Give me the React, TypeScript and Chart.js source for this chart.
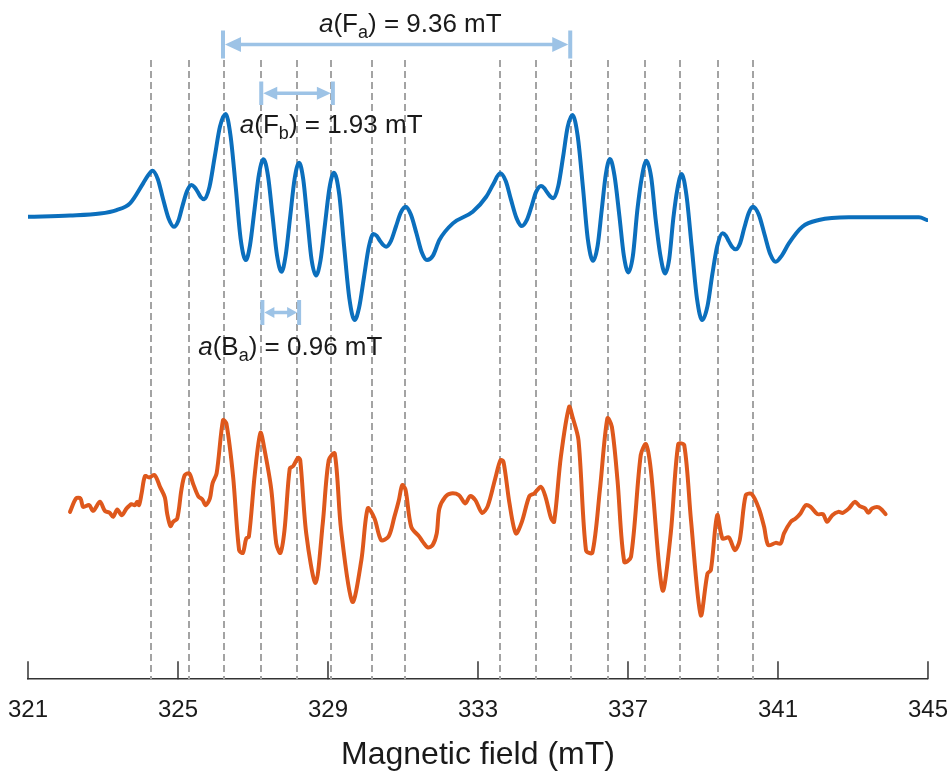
import React, { useEffect, useRef } from 'react';
import { Chart, registerables } from 'chart.js';

Chart.register(...registerables);

// ---------- data ----------
const FIELD_MIN = 321;
const FIELD_MAX = 345;
const FIELD_STEP = 4;
const AXIS_TITLE = 'Magnetic field (mT)';

// hyperfine line positions (mT)
const LINE_POSITIONS = [
  324.29, 325.3, 326.23, 327.22, 328.18, 329.07, 330.17, 331.06,
  333.59, 334.56, 335.49, 336.48, 337.46, 338.39, 339.41, 340.33,
];

// simulated spectrum (blue)
const SIM_FIELD = [
  321.01, 322.12, 322.92, 323.36, 323.72, 324.07, 324.2, 324.32, 324.46, 324.6,
  324.75, 324.89, 325.01, 325.12, 325.24, 325.36, 325.44, 325.53, 325.61, 325.7,
  325.84, 325.98, 326.12, 326.27, 326.4, 326.54, 326.67, 326.81, 326.92, 327.04,
  327.16, 327.28, 327.4, 327.52, 327.64, 327.76, 327.87, 327.99, 328.11, 328.23,
  328.34, 328.45, 328.56, 328.68, 328.8, 328.92, 329.04, 329.16, 329.3, 329.43,
  329.57, 329.71, 329.83, 329.96, 330.09, 330.21, 330.3, 330.38, 330.47, 330.55,
  330.68, 330.81, 330.94, 331.07, 331.21, 331.36, 331.5, 331.64, 331.8, 331.97,
  332.33, 332.86, 333.22, 333.41, 333.59, 333.74, 333.88, 334.03, 334.17, 334.3,
  334.43, 334.55, 334.68, 334.76, 334.84, 334.93, 335.01, 335.14, 335.27, 335.39,
  335.52, 335.66, 335.8, 335.93, 336.07, 336.19, 336.3, 336.41, 336.52, 336.64,
  336.77, 336.89, 337.01, 337.13, 337.25, 337.37, 337.49, 337.62, 337.74, 337.87,
  337.99, 338.1, 338.21, 338.32, 338.43, 338.56, 338.7, 338.84, 338.98, 339.12,
  339.25, 339.38, 339.52, 339.61, 339.69, 339.78, 339.87, 339.99, 340.1, 340.22,
  340.33, 340.49, 340.64, 340.79, 340.94, 341.11, 341.29, 341.65, 342.09, 342.89,
  344.76, 344.98,
];
const SIM_SIGNAL = [
  0.3, 1.5, 3.5, 7, 13.7, 33.7, 41.5, 46.3, 38.1, 18.3,
  -1.5, -9.7, -3.6, 11.2, 25.9, 32, 29.9, 24.9, 19.8, 17.7,
  30.2, 60.4, 90.5, 103, 81.6, 30, -21.6, -43, -28.3, 7.4,
  43, 57.7, 41.2, 1.5, -38.2, -54.7, -38.7, -0.2, 38.3, 54.3,
  37.8, -2.1, -42, -58.5, -43.4, -7.1, 29.2, 44.3, 22.6, -29.4,
  -81.4, -103, -90.4, -60, -29.6, -17, -18.9, -23.4, -27.8, -29.7,
  -23.8, -9.7, 4.4, 10.3, 2.5, -16.4, -35.2, -43, -38.5, -23,
  -6.3, 5.3, 20.3, 33, 43.7, 36, 17.4, -1.3, -9, -3.1,
  11, 25.1, 31, 29.2, 24.9, 20.5, 18.7, 30.9, 60.4, 89.8,
  102, 80.7, 29.2, -22.4, -43.7, -28.8, 7.2, 43.1, 58, 41.4,
  1.4, -38.7, -55.3, -39, 7, 40, 56.3, 39.5, -3, -39.8,
  -56.3, -41.8, -1, 28.5, 43, 21.6, -30, -81.6, -103, -89,
  -57, -29, -16.3, -18.6, -24.3, -30, -32.3, -26.1, -11, 4.1,
  10.3, 2.2, -17.2, -36.6, -44.7, -38, -26.3, -9.7, -3, -0.3,
  -0.3, -3,
];

// experimental spectrum (orange)
const EXP_FIELD = [
  322.12, 322.28, 322.4, 322.47, 322.63, 322.74, 322.92, 323.05, 323.18, 323.27,
  323.38, 323.5, 323.63, 323.76, 323.85, 323.91, 323.96, 324.03, 324.12, 324.23,
  324.38, 324.52, 324.65, 324.71, 324.8, 324.87, 324.98, 325.09, 325.18, 325.3,
  325.4, 325.54, 325.65, 325.74, 325.85, 325.92, 326.03, 326.2, 326.29, 326.47,
  326.63, 326.73, 326.82, 326.89, 327.05, 327.2, 327.31, 327.49, 327.62, 327.73,
  327.84, 327.98, 328.07, 328.2, 328.26, 328.42, 328.67, 328.86, 329.02, 329.18,
  329.35, 329.65, 329.89, 330.06, 330.24, 330.42, 330.62, 330.77, 330.89, 330.98,
  331.07, 331.22, 331.44, 331.53, 331.66, 331.79, 331.9, 331.97, 332.13, 332.28,
  332.49, 332.66, 332.79, 332.93, 333.11, 333.26, 333.46, 333.6, 333.68, 333.84,
  334.01, 334.17, 334.37, 334.5, 334.68, 334.8, 334.95, 335.03, 335.21, 335.43,
  335.52, 335.68, 335.88, 336.05, 336.25, 336.45, 336.57, 336.72, 336.9, 337.08,
  337.34, 337.48, 337.61, 337.92, 338.14, 338.34, 338.5, 338.68, 338.94, 339.12,
  339.21, 339.38, 339.52, 339.69, 339.85, 339.98, 340.14, 340.3, 340.49, 340.63,
  340.74, 340.94, 341.07, 341.16, 341.34, 341.47, 341.6, 341.74, 341.87, 342.05,
  342.2, 342.31, 342.45, 342.61, 342.73, 342.89, 343.05, 343.18, 343.32, 343.41,
  343.51, 343.69, 343.87,
];
const EXP_SIGNAL = [
  -5.7, 7.7, 7.7, -0.7, 1, -4.7, 4.3, -4.7, -6.7, -10.7,
  -3.3, -9, -2.3, 2, 1, 4.3, 1, 12.7, 30, 28.7,
  31, 19.3, 8.7, -7.3, -20, -15.7, -12.3, 16, 31, 32.7,
  22.7, 10, 6.7, 1, 7.7, 22.7, 32.7, 86, 82.7, 29.3,
  -44, -46.7, -32.3, -30.7, 32.7, 73.3, 56, 16, -37.3, -46.7,
  -24, 37.7, 40, 48.3, 46, -27.3, -76.7, -17.3, 46, 52.7,
  -24, -95.7, -54, -2.3, -12.3, -34, -30, -10.7, 6, 21,
  16, -20.7, -30.7, -35.7, -41.3, -39, -27.3, -2.3, 9.3, 12.7,
  11, 2.7, 10, 6, -6.7, 0, 27.7, 46, 44.3, 2.7,
  -27.3, -15.7, 10, 12.7, 19.3, 9.3, -12.3, -15.7, 49.3, 99.3,
  89.3, 66, -44, -46.7, 16, 87.7, 79.3, 26, -55.7, -50.7,
  51, 62, 36, -84, -27.3, 62, 61, -14, -109, -67.3,
  -64, -9, -32.3, -31.3, -44, -34, 11, 12, -2.3, -20.7,
  -39, -36.7, -37.3, -27.3, -15.7, -12.3, -7.3, 1, -0.7, -8,
  -8, -15.7, -9, -5.7, -6.7, -2.3, 4.3, 0, -2.3, -6.7,
  -2.3, -1.3, -8,
];

// vertical stacking offsets of the two traces (signal units)
const SIM_OFFSET = 462;
const EXP_OFFSET = 173;
const SIGNAL_MIN = 0;
const SIGNAL_MAX = 679;

// hyperfine splitting annotations
const SPLIT_NUCLEUS = ['F', 'F', 'B'];
const SPLIT_SUB = ['a', 'b', 'a'];
const SPLIT_VALUE = ['9.36', '1.93', '0.96'];
const SPLIT_FROM = [326.2, 327.22, 327.25];
const SPLIT_TO = [335.46, 329.13, 328.23];
const SPLIT_LABEL_AT = [328.76, 326.65, 325.54];

// ---------- styling ----------
const FONT = "'Liberation Sans', Arial, Helvetica, sans-serif";
const BLUE = '#0b6fbd';
const ORANGE = '#de581c';
const ARROW = '#9dc3e6';
const TEXT = '#1a1a1a';

const ARROW_GEOM = [
  { y: 44.5, cap: 14, head: 16, half: 7.5, baseY: 31.7 },
  { y: 93.3, cap: 11.7, head: 14, half: 6.5, baseY: 133.3 },
  { y: 312.5, cap: 12.5, head: 10, half: 5.5, baseY: 355 },
];

const overlayPlugin = {
  id: 'overlay',
  beforeDatasetsDraw(chart: any) {
    const { ctx, chartArea, scales } = chart;
    const x = scales.x;
    ctx.save();
    ctx.strokeStyle = '#a3a3a3';
    ctx.lineWidth = 2;
    ctx.setLineDash([7, 4]);
    LINE_POSITIONS.forEach((v) => {
      const px = Math.round(x.getPixelForValue(v));
      ctx.beginPath();
      ctx.moveTo(px, chartArea.top + 60);
      ctx.lineTo(px, chartArea.bottom);
      ctx.stroke();
    });
    ctx.restore();
  },
  afterDatasetsDraw(chart: any) {
    const { ctx, scales } = chart;
    const x = scales.x;
    ctx.save();
    SPLIT_FROM.forEach((from, i) => {
      const g = ARROW_GEOM[i];
      const x1 = x.getPixelForValue(from);
      const x2 = x.getPixelForValue(SPLIT_TO[i]);
      ctx.strokeStyle = ARROW;
      ctx.fillStyle = ARROW;
      ctx.lineWidth = 4;
      ctx.setLineDash([]);
      ctx.beginPath();
      ctx.moveTo(x1, g.y - g.cap);
      ctx.lineTo(x1, g.y + g.cap);
      ctx.moveTo(x2, g.y - g.cap);
      ctx.lineTo(x2, g.y + g.cap);
      ctx.stroke();
      ctx.lineWidth = 3.5;
      ctx.beginPath();
      ctx.moveTo(x1 + g.head, g.y);
      ctx.lineTo(x2 - g.head, g.y);
      ctx.stroke();
      ctx.beginPath();
      ctx.moveTo(x1 + 2, g.y);
      ctx.lineTo(x1 + 2 + g.head, g.y - g.half);
      ctx.lineTo(x1 + 2 + g.head, g.y + g.half);
      ctx.closePath();
      ctx.fill();
      ctx.beginPath();
      ctx.moveTo(x2 - 2, g.y);
      ctx.lineTo(x2 - 2 - g.head, g.y - g.half);
      ctx.lineTo(x2 - 2 - g.head, g.y + g.half);
      ctx.closePath();
      ctx.fill();

      let tx = x.getPixelForValue(SPLIT_LABEL_AT[i]);
      const by = g.baseY;
      ctx.fillStyle = TEXT;
      ctx.textBaseline = 'alphabetic';
      ctx.textAlign = 'left';
      const parts: [string, string, number][] = [
        ['a', `italic 26px ${FONT}`, 0],
        ['(' + SPLIT_NUCLEUS[i], `26px ${FONT}`, 0],
        [SPLIT_SUB[i], `18px ${FONT}`, 6],
        [') = ' + SPLIT_VALUE[i] + ' mT', `26px ${FONT}`, 0],
      ];
      parts.forEach(([t, f, dy]) => {
        ctx.font = f;
        ctx.fillText(t, tx, by + dy);
        tx += ctx.measureText(t).width;
      });
    });
    ctx.restore();
  },
  afterDraw(chart: any) {
    const { ctx, chartArea, scales } = chart;
    const x = scales.x;
    ctx.save();
    ctx.strokeStyle = '#333333';
    ctx.lineWidth = 1.5;
    x.ticks.forEach((t: any) => {
      const px = x.getPixelForValue(t.value);
      ctx.beginPath();
      ctx.moveTo(px, chartArea.bottom - 18);
      ctx.lineTo(px, chartArea.bottom);
      ctx.stroke();
    });
    ctx.restore();
  },
};

export default function App() {
  const ref = useRef<HTMLCanvasElement | null>(null);
  useEffect(() => {
    if (!ref.current) return;
    const chart = new Chart(ref.current, {
      type: 'line',
      data: {
        datasets: [
          {
            label: 'Simulated',
            data: SIM_FIELD.map((f, i) => ({ x: f, y: SIM_SIGNAL[i] + SIM_OFFSET })),
            borderColor: BLUE,
            borderWidth: 4,
            pointRadius: 0,
            cubicInterpolationMode: 'monotone',
            borderJoinStyle: 'round',
            borderCapStyle: 'round',
            fill: false,
          },
          {
            label: 'Experimental',
            data: EXP_FIELD.map((f, i) => ({ x: f, y: EXP_SIGNAL[i] + EXP_OFFSET })),
            borderColor: ORANGE,
            borderWidth: 4,
            pointRadius: 0,
            tension: 0.3,
            borderJoinStyle: 'round',
            borderCapStyle: 'round',
            fill: false,
          },
        ],
      },
      options: {
        animation: false,
        responsive: false,
        devicePixelRatio: 1,
        layout: { padding: { left: 28, right: 20.7, top: 0, bottom: 0 } },
        plugins: { legend: { display: false }, tooltip: { enabled: false } },
        scales: {
          x: {
            type: 'linear',
            min: FIELD_MIN,
            max: FIELD_MAX,
            grid: { display: false, drawTicks: true, tickLength: 15 },
            border: { display: true, color: '#333333', width: 1.5 },
            ticks: {
              stepSize: FIELD_STEP,
              padding: 2,
              color: TEXT,
              font: { family: FONT, size: 24 },
              maxRotation: 0,
            },
            title: {
              display: true,
              text: AXIS_TITLE,
              color: TEXT,
              font: { family: FONT, size: 32, lineHeight: 1 },
              padding: { top: 12, bottom: 0 },
            },
          },
          y: { display: false, min: SIGNAL_MIN, max: SIGNAL_MAX },
        },
      },
      plugins: [overlayPlugin],
    });
    return () => chart.destroy();
  }, []);
  return (
    <div style={{ position: 'fixed', left: 0, top: 0, width: 950, height: 771, background: '#fff' }}>
      <canvas ref={ref} width={950} height={771} />
    </div>
  );
}
